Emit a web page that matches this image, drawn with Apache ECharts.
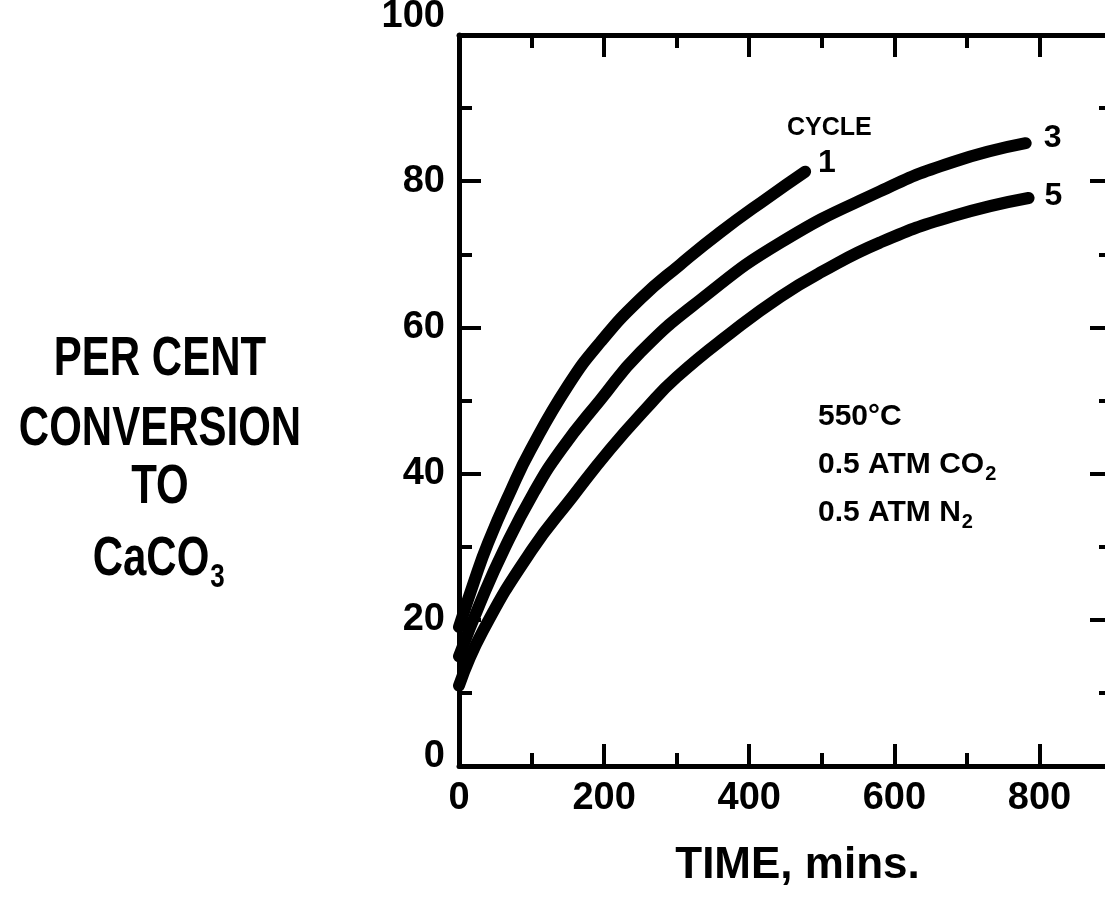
<!DOCTYPE html>
<html>
<head>
<meta charset="utf-8">
<script src="https://cdn.jsdelivr.net/npm/echarts@6/dist/echarts.min.js"></script>
<style>
  html, body { margin: 0; padding: 0; background: #fff; }
  #chart { width: 1105px; height: 901px; }
</style>
</head>
<body>
<div id="chart"></div>
<script>
// Per cent conversion of CaO to CaCO3 against time for carbonation cycles 1, 3 and 5
const cycle1Time = [0, 20, 40, 72, 99, 150, 195, 250, 305, 360, 425, 477];
const cycle1Pct  = [19, 25, 30.5, 37.8, 43.3, 52, 58, 63.9, 68.6, 73, 77.7, 81.3];
const cycle3Time = [0, 30, 62, 103, 141, 195, 250, 333, 443, 580, 680, 781];
const cycle3Pct  = [15, 22.5, 29.6, 37.4, 43.3, 50.1, 56.6, 63.8, 71.6, 78.6, 82.6, 85.2];
const cycle5Time = [0, 33, 100, 157, 208, 257, 300, 378, 443, 500, 580, 680, 785];
const cycle5Pct  = [11, 18.5, 29.5, 36.9, 43.3, 48.8, 53.2, 59.5, 64.2, 67.6, 71.6, 75.2, 77.7];
const cycleNames = ['1', '3', '5'];
const timeTicks = [0, 200, 400, 600, 800];
const pctTicks = [0, 20, 40, 60, 80, 100];
const yTitleLines = ['PER CENT', 'CONVERSION', 'TO'];
const conditionLines = [['550°C', ''], ['0.5 ATM CO', '2'], ['0.5 ATM N', '2']];

const BLACK = '#000';
const FONT = '"Liberation Sans", Arial, sans-serif';
const TICK_LONG = 22;
const TICK_SHORT = 13;

function pairs(ts, vs) { return ts.map((t, i) => [t, vs[i]]); }

const measureCtx = document.createElement('canvas').getContext('2d');
function textWidth(str, size) {
  measureCtx.font = 'bold ' + size + 'px ' + FONT;
  return measureCtx.measureText(str).width;
}

// the frame runs out to 900 min, just past the right edge of the canvas
const gridBox = { left: 459, top: 35, right: -7, bottom: 135, containLabel: false, outerBoundsMode: 'none' };

// labelled frame axes: long ticks every 200 min / 20 %
function timeAxis(position, withLabels) {
  return {
    type: 'value', gridIndex: 0, position: position, min: 0, max: 900, interval: 200,
    axisLine: { show: true, onZero: false, lineStyle: { color: BLACK, width: 5 } },
    axisTick: { show: true, inside: true, length: TICK_LONG, lineStyle: { color: BLACK, width: 4 } },
    splitLine: { show: false },
    axisLabel: {
      show: withLabels, color: BLACK, fontFamily: FONT, fontWeight: 'bold', fontSize: 38, margin: 14,
      formatter: v => (timeTicks.indexOf(v) >= 0 ? String(v) : '')
    },
    name: withLabels ? 'TIME, mins.' : '',
    nameLocation: 'middle', nameGap: 78,
    nameTextStyle: { color: BLACK, fontFamily: FONT, fontWeight: 'bold', fontSize: 44, lineHeight: 44, padding: [0, 0, 0, 24] }
  };
}
// unlabelled short ticks every 100 min, drawn on a second grid with the same box
function timeMinorAxis(position) {
  return {
    type: 'value', gridIndex: 1, position: position, min: 0, max: 900, interval: 100,
    axisLine: { show: false, onZero: false },
    axisTick: { show: true, inside: true, length: TICK_SHORT, lineStyle: { color: BLACK, width: 4 } },
    splitLine: { show: false },
    axisLabel: { show: false }
  };
}
function pctAxis(position, withLabels) {
  return {
    type: 'value', gridIndex: 0, position: position, min: 0, max: 100, interval: 20,
    axisLine: { show: true, onZero: false, lineStyle: { color: BLACK, width: 5 } },
    axisTick: { show: true, inside: true, length: TICK_LONG, lineStyle: { color: BLACK, width: 4 } },
    minorTick: { show: true, splitNumber: 2, length: TICK_SHORT, lineStyle: { color: BLACK, width: 4 } },
    splitLine: { show: false },
    minorSplitLine: { show: false },
    axisLabel: {
      show: withLabels, color: BLACK, fontFamily: FONT, fontWeight: 'bold', fontSize: 38, margin: 14,
      formatter: v => {
        if (pctTicks.indexOf(v) < 0) return '';
        if (v === 100) return '{hi|100}';
        if (v === 0) return '{lo|0}';
        return String(v);
      },
      rich: {
        hi: { fontFamily: FONT, fontWeight: 'bold', fontSize: 38, color: BLACK, padding: [0, 0, 36, 0] },
        lo: { fontFamily: FONT, fontWeight: 'bold', fontSize: 38, color: BLACK, padding: [0, 0, 18, 0] }
      }
    }
  };
}

function cycleSeries(name, ts, vs, offset) {
  return {
    type: 'line', name: name, xAxisIndex: 0, yAxisIndex: 0,
    data: pairs(ts, vs),
    showSymbol: false, symbol: 'none', smooth: 0.5,
    lineStyle: { color: BLACK, width: 12, cap: 'round', join: 'round' },
    endLabel: {
      show: true, formatter: name, distance: 0, offset: offset,
      color: BLACK, fontFamily: FONT, fontWeight: 'bold', fontSize: 32
    },
    silent: true
  };
}

// y-axis title block and condition notes
const graphics = [];
const titleYs = [360, 430, 488];
yTitleLines.forEach((line, i) => {
  graphics.push({
    type: 'text', x: 160, y: titleYs[i], scaleY: 1.3,
    style: { text: line, font: 'bold 42px ' + FONT, fill: BLACK, textAlign: 'center', textVerticalAlign: 'middle', align: 'center', verticalAlign: 'middle' }
  });
});
const caco = 'CaCO';
const cacoW = textWidth(caco, 42);
const cacoCx = 151;
graphics.push({
  type: 'text', x: cacoCx, y: 560, scaleY: 1.3,
  style: { text: caco, font: 'bold 42px ' + FONT, fill: BLACK, textAlign: 'center', textVerticalAlign: 'middle', align: 'center', verticalAlign: 'middle' }
});
graphics.push({
  type: 'text', x: cacoCx + cacoW / 2 + 1, y: 578, scaleY: 1.3,
  style: { text: '3', font: 'bold 26px ' + FONT, fill: BLACK, textAlign: 'left', textVerticalAlign: 'middle', align: 'left', verticalAlign: 'middle' }
});
graphics.push({
  type: 'text', x: 787, y: 128,
  style: { text: 'CYCLE', font: 'bold 25px ' + FONT, fill: BLACK, textAlign: 'left', textVerticalAlign: 'middle', align: 'left', verticalAlign: 'middle' }
});
const condYs = [417, 465, 513];
conditionLines.forEach((parts, i) => {
  graphics.push({
    type: 'text', x: 818, y: condYs[i],
    style: { text: parts[0], font: 'bold 30px ' + FONT, fill: BLACK, textAlign: 'left', textVerticalAlign: 'middle', align: 'left', verticalAlign: 'middle' }
  });
  if (parts[1]) {
    graphics.push({
      type: 'text', x: 818 + textWidth(parts[0], 30) + 1, y: condYs[i] + 9,
      style: { text: parts[1], font: 'bold 20px ' + FONT, fill: BLACK, textAlign: 'left', textVerticalAlign: 'middle', align: 'left', verticalAlign: 'middle' }
    });
  }
});

const chart = echarts.init(document.getElementById('chart'), null, { renderer: 'canvas' });
chart.setOption({
  animation: false,
  backgroundColor: '#fff',
  grid: [Object.assign({}, gridBox), Object.assign({}, gridBox)],
  xAxis: [timeAxis('bottom', true), timeAxis('top', false), timeMinorAxis('bottom'), timeMinorAxis('top')],
  yAxis: [
    pctAxis('left', true),
    pctAxis('right', false),
    { type: 'value', gridIndex: 1, min: 0, max: 100, show: false }
  ],
  series: [
    cycleSeries(cycleNames[0], cycle1Time, cycle1Pct, [13, -9]),
    cycleSeries(cycleNames[1], cycle3Time, cycle3Pct, [18, -5]),
    cycleSeries(cycleNames[2], cycle5Time, cycle5Pct, [16, -2])
  ],
  graphic: graphics
});
</script>
</body>
</html>
